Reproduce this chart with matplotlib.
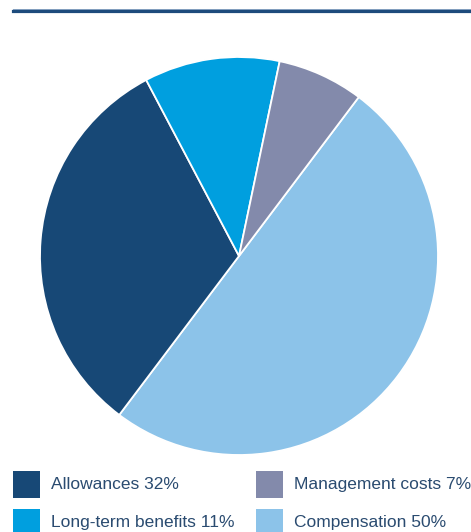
import matplotlib.pyplot as plt
from matplotlib.patches import Rectangle
from matplotlib.lines import Line2D

# Cost breakdown, drawn clockwise starting with compensation
labels = ["Compensation", "Allowances", "Long-term benefits", "Management costs"]
shares = [50, 32, 11, 7]
colors = ["#8cc3e9", "#174876", "#009fdf", "#838aab"]

# legend is laid out in two columns, row by row
legend_order = ["Allowances", "Management costs", "Long-term benefits", "Compensation"]

W, H = 471, 532
fig = plt.figure(figsize=(W / 100, H / 100), dpi=100)
plt.rcParams['font.family'] = ['Liberation Sans', 'DejaVu Sans']

# rule across the top
fig.add_artist(Line2D([13 / W, 1], [1 - 10.5 / H, 1 - 10.5 / H], color="#1d4b7c",
                      linewidth=2.3, transform=fig.transFigure))
fig.add_artist(Line2D([13 / W, 1], [1 - 9 / H, 1 - 9 / H], color="#7f9cbd",
                      linewidth=0.7, transform=fig.transFigure))

# pie centred at (239, 256) px with radius 199 px
cx, cy, r = 239, 256, 199
ax = fig.add_axes([(cx - r) / W, (H - cy - r) / H, 2 * r / W, 2 * r / H])
ax.pie(shares, colors=colors, startangle=53, counterclock=False, radius=1,
       wedgeprops=dict(edgecolor="white", linewidth=1.3))
ax.set_xlim(-1, 1)
ax.set_ylim(-1, 1)
ax.set_aspect("equal")
ax.axis("off")

# legend squares and labels
col_x = [13, 256]
row_y = [471, 509]
for i, name in enumerate(legend_order):
    k = labels.index(name)
    x0 = col_x[i % 2]
    y0 = row_y[i // 2]
    fig.add_artist(Rectangle((x0 / W, 1 - (y0 + 27) / H), 27 / W, 27 / H,
                             facecolor=colors[k], edgecolor="none",
                             transform=fig.transFigure))
    fig.text((x0 + 38) / W, 1 - (y0 + 13.5) / H, f"{name} {shares[k]}%",
             fontsize=12.5, color="#2a4b70", va="center", ha="left")

fig.savefig("out.png", dpi=100)
